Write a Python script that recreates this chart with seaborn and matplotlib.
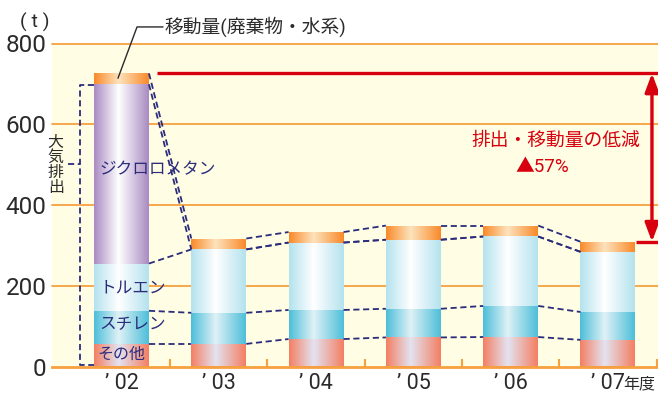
import numpy as np
import pandas as pd
import matplotlib
matplotlib.use("Agg")
import matplotlib.pyplot as plt
import matplotlib.colors as mcolors
from matplotlib.patches import ArrowStyle
import seaborn as sns

# ---------------- data ----------------
years = ["’ 02", "’ 03", "’ 04", "’ 05", "’ 06", "’ 07"]
other = [56, 56, 68, 72, 73, 66]          # その他
styrene = [82, 77, 72, 71, 77, 69]        # スチレン
toluene = [117, 157, 167, 171, 172, 149]  # トルエン
dcm = [444, 0, 0, 0, 0, 0]                # ジクロロメタン
transfer = [27, 27, 26, 35, 27, 25]       # 移動量（廃棄物・水系）
reduction_label = "▲57%"

layer_names = ["その他", "スチレン", "トルエン", "ジクロロメタン", "移動量"]
layers = [other, styrene, toluene, dcm, transfer]

# gradient colours (edge, centre) for each layer
grad_cols = {
    "その他": ("#f47f63", "#e3e3f1"),
    "スチレン": ("#4dbfd9", "#dff1f6"),
    "トルエン": ("#b4e2ee", "#ffffff"),
    "ジクロロメタン": ("#a98bc2", "#ffffff"),
    "移動量": ("#f98a2a", "#fde3bd"),
}

sns.set_theme(style="white")
plt.rcParams["font.family"] = ["Roboto", "Noto Sans CJK JP", "DejaVu Sans"]

NAVY = "#2b2d7c"
RED = "#d7000f"
ORANGE = "#f7a040"
BG = "#fffde3"
DARK = "#2a2a2a"

fig = plt.figure(figsize=(6.58, 3.96), dpi=100)
ax = fig.add_axes([52 / 658, 1 - 366.5 / 396, 1 - 52 / 658, (366.5 - 43.5) / 396])
ax.set_facecolor(BG)

W = 0.565
cum = np.zeros(len(years))
bounds = []
for name, vals in zip(layer_names, layers):
    vals = np.array(vals, dtype=float)
    df = pd.DataFrame({"year": years, "value": vals})
    sns.barplot(data=df, x="year", y="value", order=years, bottom=cum.copy(),
                width=W, color=grad_cols[name][0], ax=ax, zorder=2,
                linewidth=0, errorbar=None)
    cum = cum + vals
    bounds.append(cum.copy())

# apply horizontal gradients to every bar patch
def grad_img(edge, centre, n=128):
    e = np.array(mcolors.to_rgb(edge))
    c = np.array(mcolors.to_rgb(centre))
    t = np.linspace(0, 1, n)
    img = np.zeros((1, n, 3))
    for k in range(3):
        img[0, :, k] = np.interp(t, [0, 0.45, 1], [e[k], c[k], e[k]])
    return img

for cont, name in zip(ax.containers, layer_names):
    img = grad_img(*grad_cols[name])
    for p in cont.patches:
        x, y, w, h = p.get_x(), p.get_y(), p.get_width(), p.get_height()
        if h <= 0:
            continue
        im = ax.imshow(img, extent=[x, x + w, y, y + h], aspect="auto",
                       interpolation="bilinear", zorder=2.5)
        im.set_clip_path(p)

xlim = (-0.714, 5.514)
ax.set_xlim(*xlim)
ax.set_ylim(0, 800)

# gridlines
for v in [200, 400, 600, 800]:
    ax.axhline(v, color=ORANGE, lw=1.3, zorder=1, clip_on=False)

# connectors between bars
total = bounds[4]
emis = bounds[3]
tol_top = bounds[2]
sty_top = bounds[1]
oth_top = bounds[0]
DASH = (0, (3.4, 2))
for lev in [total, emis, tol_top, sty_top, oth_top]:
    for i in range(len(years) - 1):
        ax.plot([i + W / 2, i + 1 - W / 2], [lev[i], lev[i + 1]],
                ls=DASH, color=NAVY, lw=1.3, zorder=3)

# axis styling
for s in ["left", "top", "right"]:
    ax.spines[s].set_visible(False)
ax.spines["bottom"].set_color(ORANGE)
ax.spines["bottom"].set_linewidth(2)
ax.spines["bottom"].set_zorder(4)
ax.set_yticks([0, 200, 400, 600, 800])
ax.tick_params(axis="y", length=0, pad=4, labelsize=17.5, labelcolor=DARK)
ax.tick_params(axis="x", which="major", length=0, pad=5, labelsize=15.5, labelcolor=DARK)
ax.set_xticks(np.arange(len(years)) + 0.5, minor=True)
ax.tick_params(axis="x", which="minor", direction="in", length=6, width=1.5,
               color=ORANGE, bottom=True)
ax.set_xlabel("")
ax.set_ylabel("")
ax.text(5.325, -42, "年度", ha="center", va="center", fontsize=11.5,
        color=DARK, clip_on=False)
fig.text(35 / 658, 1 - 22 / 396, "( t )", ha="center", va="center",
         fontsize=14, color=DARK)

# layer labels on the 2002 bar
x0 = 0 - W / 2 + 0.06
ax.text(x0, 488, "ジクロロメタン", color=NAVY, fontsize=12, ha="left", va="center", zorder=6)
ax.text(x0, 195, "トルエン", color=NAVY, fontsize=12, ha="left", va="center", zorder=6)
ax.text(x0, 103, "スチレン", color=NAVY, fontsize=12, ha="left", va="center", zorder=6)
ax.text(0, 29, "その他", color=NAVY, fontsize=11.5, ha="center", va="center", zorder=6)

# 大気排出 bracket
bx = -0.427
ax.plot([0 - W / 2, bx, bx, 0 - W / 2], [emis[0] - 2, emis[0] - 2, 4, 4],
        ls=DASH, color=NAVY, lw=1.3, clip_on=False, zorder=3)
ax.plot([-0.545, bx], [501, 501], ls=DASH, color=NAVY, lw=1.3,
        clip_on=False, zorder=3)
ax.text(-0.675, 500, "大\n気\n排\n出", ha="center", va="center", fontsize=11.5,
        linespacing=1.0, color=DARK, zorder=6)

# 移動量 leader
ax.plot([-0.036, 0.16, 0.427], [total[0] - 12, 841, 841], color=DARK,
        lw=1, clip_on=False, zorder=6)
ax.text(0.447, 841, "移動量(廃棄物・水系)", ha="left", va="center", fontsize=13.5,
        color=DARK, clip_on=False)

# reduction annotation
ax.plot([0 + W / 2 + 0.08, xlim[1]], [total[0], total[0]], color=RED, lw=2.4,
        clip_on=False, zorder=5, solid_capstyle="butt")
ax.plot([5 + W / 2 + 0.005, xlim[1]], [total[5], total[5]], color=RED, lw=2.4,
        clip_on=False, zorder=5, solid_capstyle="butt")
ax.annotate("", xy=(5.452, total[5]), xytext=(5.452, total[0]),
            arrowprops=dict(arrowstyle=ArrowStyle("<|-|>", head_length=0.8, head_width=0.3),
                            mutation_scale=14, color=RED, lw=2.4,
                            shrinkA=0, shrinkB=0), zorder=5)
ax.text(4.466, 558, "排出・移動量の低減", ha="center", va="center", fontsize=13.5,
        color=RED, zorder=6)
ax.text(4.33, 493, reduction_label, ha="center", va="center", fontsize=13.5,
        color=RED, zorder=6)

fig.savefig("out.png", dpi=100)
